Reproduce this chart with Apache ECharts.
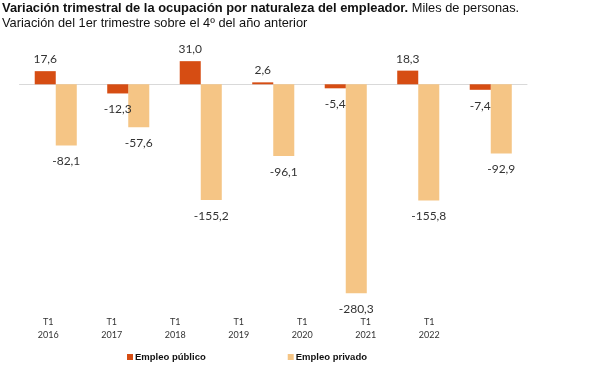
<!DOCTYPE html>
<html>
<head>
<meta charset="utf-8">
<script src="https://cdn.jsdelivr.net/npm/echarts@6/dist/echarts.min.js"></script>
<style>
html,body{margin:0;padding:0;background:#fff;}
#c{width:598px;height:374px;}
</style>
</head>
<body>
<div id="c"></div>
<script>
var categories = ['T1\n2016','T1\n2017','T1\n2018','T1\n2019','T1\n2020','T1\n2021','T1\n2022'];
var publico = [17.6, -12.3, 31.0, 2.6, -5.4, 18.3, -7.4];
var privado = [-82.1, -57.6, -155.2, -96.1, -280.3, -155.8, -92.9];
var seriesNames = ['Empleo público', 'Empleo privado'];
var colors = ['#D64D13', '#F5C585'];

function fmt(p){ return p.value.toFixed(1).replace('.', ','); }
function items(arr){
  return arr.map(function(v){
    return {value: v, label: {position: v < 0 ? 'bottom' : 'top', distance: v < 0 ? 10 : 6}};
  });
}
var labelStyle = {show: true, formatter: fmt, fontFamily: 'Lato', fontSize: 12, color: '#333'};

var chart = echarts.init(document.getElementById('c'));
chart.setOption({
  animation: false,
  backgroundColor: '#fff',
  title: [{
    text: '{b|Variación trimestral de la ocupación por naturaleza del empleador.}{r| Miles de personas.}\n{r|Variación del 1er trimestre sobre el 4º del año anterior}',
    left: 2, top: 1, padding: [0, 0, 0, 0],
    textStyle: {
      rich: {
        b: {fontFamily: 'Liberation Sans', fontWeight: 'bold', fontSize: 12.9, color: '#111', lineHeight: 15},
        r: {fontFamily: 'Liberation Sans', fontWeight: 'normal', fontSize: 12.8, color: '#111', lineHeight: 15}
      }
    }
  }],
  legend: {
    data: seriesNames,
    left: 127, top: 352, padding: 0,
    itemWidth: 6, itemHeight: 6, itemGap: 82,
    icon: 'rect',
    textStyle: {fontFamily: 'Liberation Sans', fontWeight: 'bold', fontSize: 9.5, color: '#111', padding: [0,0,0,-3]}
  },
  grid: [
    {left: 19.5, width: 507.5, top: 47, height: 261},
    {left: 16.5, width: 444.5, top: 315, height: 0}
  ],
  xAxis: [
    {type: 'category', data: categories, gridIndex: 0,
     axisLine: {show: true, onZero: true, lineStyle: {color: '#D9D9D9', width: 1}},
     axisTick: {show: false}, axisLabel: {show: false}},
    {type: 'category', data: categories, gridIndex: 1, position: 'bottom',
     axisLine: {show: false}, axisTick: {show: false},
     axisLabel: {show: true, margin: 1, fontFamily: 'Lato', fontSize: 9, lineHeight: 13, color: '#333'}}
  ],
  yAxis: [
    {type: 'value', gridIndex: 0, min: -300, max: 50, show: false},
    {type: 'value', gridIndex: 1, show: false}
  ],
  series: [
    {name: seriesNames[0], type: 'bar', data: items(publico), xAxisIndex: 0, yAxisIndex: 0,
     itemStyle: {color: colors[0]}, barGap: '0%', barCategoryGap: '42%', label: labelStyle, z: 3},
    {name: seriesNames[1], type: 'bar', data: items(privado), xAxisIndex: 0, yAxisIndex: 0,
     itemStyle: {color: colors[1]}, barGap: '0%', barCategoryGap: '42%', label: labelStyle, z: 2}
  ]
});
</script>
</body>
</html>
